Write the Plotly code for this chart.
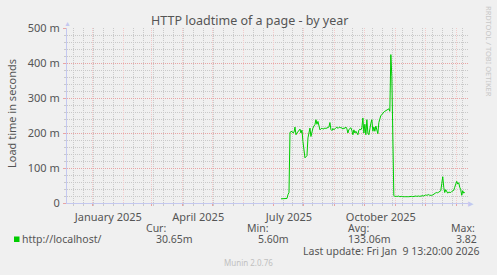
import plotly.graph_objects as go
import pandas as pd

# ---------------- data (daily averages, milliseconds) ----------------
start_date = "2025-07-09"
load_ms = [
    12, 12, 11, 12, 12, 12, 13, 24, 30,                       # Jul 9 - Jul 17
    202, 203, 205, 200, 202, 217, 195, 200, 205, 209, 211, 200, 208, 175,
    143, 129, 132, 135, 186, 205, 214, 190, 205, 214,
    220, 224, 238, 225, 233, 220, 209, 212, 214, 211,
    213, 214, 213, 215, 216, 217, 230, 210, 207, 213,
    209, 213, 215, 217, 213, 216, 217, 214, 215, 211,
    215, 213, 217, 212, 200, 210, 213, 215, 207, 195,
    209, 200, 205, 200, 195, 208, 211, 209, 215, 243,
    200, 225, 195, 238, 200, 195, 220, 228, 238, 205,
    217, 205, 220, 211, 198, 230, 243, 250, 252, 257,
    260, 262, 264, 265, 266, 269, 262, 424, 362, 180,
    21, 19, 20, 19, 19, 20, 18, 19, 19, 18,
    19, 18, 18, 19, 18, 18, 19, 18, 19, 18,
    19, 19, 20, 19, 20, 20, 19, 20, 20, 21,
    20, 22, 23, 22, 23, 24, 22, 21, 22, 23,
    26, 28, 29, 30, 29, 31, 32, 35, 55, 75,
    45, 30, 38, 30, 28, 31, 30, 30, 33, 34,
    36, 45, 58, 62, 54, 58, 45, 38, 22, 35,
    28, 31,
]
dates = pd.date_range(start_date, periods=len(load_ms), freq="D")

y_ticks = [0, 100, 200, 300, 400, 500]
y_tick_text = ["0", "100 m", "200 m", "300 m", "400 m", "500 m"]

month_ticks = pd.date_range("2025-01-01", "2026-01-01", freq="MS")
label_months = {1: "January", 4: "April", 7: "July", 10: "October"}
month_text = [f"{label_months[d.month]} {d.year}" if d.month in label_months else "" for d in month_ticks]

x_range = ["2024-12-06 16:00", "2026-01-12 07:00"]
# minor grid every 10 days (aligned to epoch days)
epoch = pd.Timestamp("1970-01-01")
all_days = pd.date_range("2024-12-06", "2026-01-12", freq="D")
minor_ticks = [d for d in all_days if (d - epoch).days % 10 == 0]

series_name = "http://localhost/"
stat_heads = ["Cur:", "Min:", "Avg:", "Max:"]
stat_vals = ["30.65m", "5.60m", "133.06m", "3.82"]
last_update = "Last update: Fri Jan\u00a0\u00a09 13:20:00 2026"

# ---------------- layout helpers ----------------
W, H = 497, 275
L, R, T, B = 67, 468, 28, 203
BG = "#F0F0F0"
TXT = "#555555"
FONT = "Noto Sans"
MAJOR_Y = "#E8A4A4"
MAJOR_X = "#F3CACA"
MINOR = "#C9C9C9"
AXIS = "#C4C8F0"
GREEN = "#00CC00"


def px(x):
    return (x - L) / (R - L)


def py(y):
    return (B - y) / (B - T)


annotations = []


def ann(text, x, y, xanchor="center", size=11, color=TXT, angle=0):
    annotations.append(dict(
        text=text, x=px(x), y=py(y), xref="paper", yref="paper",
        xanchor=xanchor, yanchor="middle", showarrow=False,
        textangle=angle, font=dict(family=FONT, size=size, color=color)))


fig = go.Figure(go.Scatter(
    x=dates, y=load_ms, mode="lines",
    line=dict(color=GREEN, width=1), hoverinfo="skip"))

ann("HTTP loadtime of a page - by year", 249, 21, size=12.5)
ann("Load time in seconds", 11, 114, size=11, angle=-90)
ann("RRDTOOL / TOBI OETIKER", 489, 51, size=7.5, color="#C8C8C8", angle=90)
ann("Munin 2.0.76", 248, 262, size=8, color="#C0C0C0")

head_right = [168, 271, 372, 477]
val_right = [195, 291, 393, 479]
for h, xr in zip(stat_heads, head_right):
    ann(h, xr, 227.5, xanchor="right", size=10.5)
for v, xr in zip(stat_vals, val_right):
    ann(v, xr, 239, xanchor="right", size=10.5)
ann(series_name, 20, 239, xanchor="left", size=10.5)
ann(last_update, 482, 251, xanchor="right", size=10.5)

# axis arrows
ann("\u25B2", 67, 24, size=7, color=AXIS)
ann("\u25B6", 471, 203, size=7, color=AXIS)

shapes = [dict(type="rect", xref="paper", yref="paper",
               x0=px(14), x1=px(19.5), y0=py(242), y1=py(236.5),
               fillcolor=GREEN, line=dict(width=0))]

fig.update_layout(
    width=W, height=H,
    margin=dict(l=L, r=W - R, t=T, b=H - B, pad=0),
    paper_bgcolor=BG, plot_bgcolor=BG,
    showlegend=False,
    annotations=annotations,
    shapes=shapes,
    font=dict(family=FONT, color=TXT),
    xaxis=dict(
        type="date", range=x_range, fixedrange=True,
        tickmode="array", tickvals=month_ticks, ticktext=month_text,
        ticklabelshift=16, ticklabelstandoff=2,
        tickfont=dict(family=FONT, size=11, color=TXT),
        showgrid=True, gridcolor=MAJOR_X, griddash="1px,1px", gridwidth=1,
        ticks="outside", ticklen=2, tickcolor=MAJOR_Y, tickwidth=1,
        showline=True, linecolor=AXIS, linewidth=1,
        zeroline=False,
        minor=dict(tickmode="array", tickvals=minor_ticks, showgrid=True,
                   gridcolor=MINOR, griddash="1px,1px", gridwidth=1,
                   ticks="outside", ticklen=2, tickcolor=MINOR),
    ),
    yaxis=dict(
        range=[0, 500], fixedrange=True,
        tickmode="array", tickvals=y_ticks, ticktext=y_tick_text,
        tickfont=dict(family=FONT, size=11, color=TXT),
        showgrid=True, gridcolor=MAJOR_Y, griddash="1px,1px", gridwidth=1,
        ticks="outside", ticklen=3, tickcolor=MAJOR_Y, tickwidth=1,
        ticklabelstandoff=1,
        showline=True, linecolor=AXIS, linewidth=1,
        zeroline=False,
        minor=dict(dtick=20, showgrid=True, gridcolor=MINOR,
                   griddash="1px,1px", gridwidth=1,
                   ticks="outside", ticklen=2, tickcolor=MINOR),
    ),
)

fig.write_html("out.html")
